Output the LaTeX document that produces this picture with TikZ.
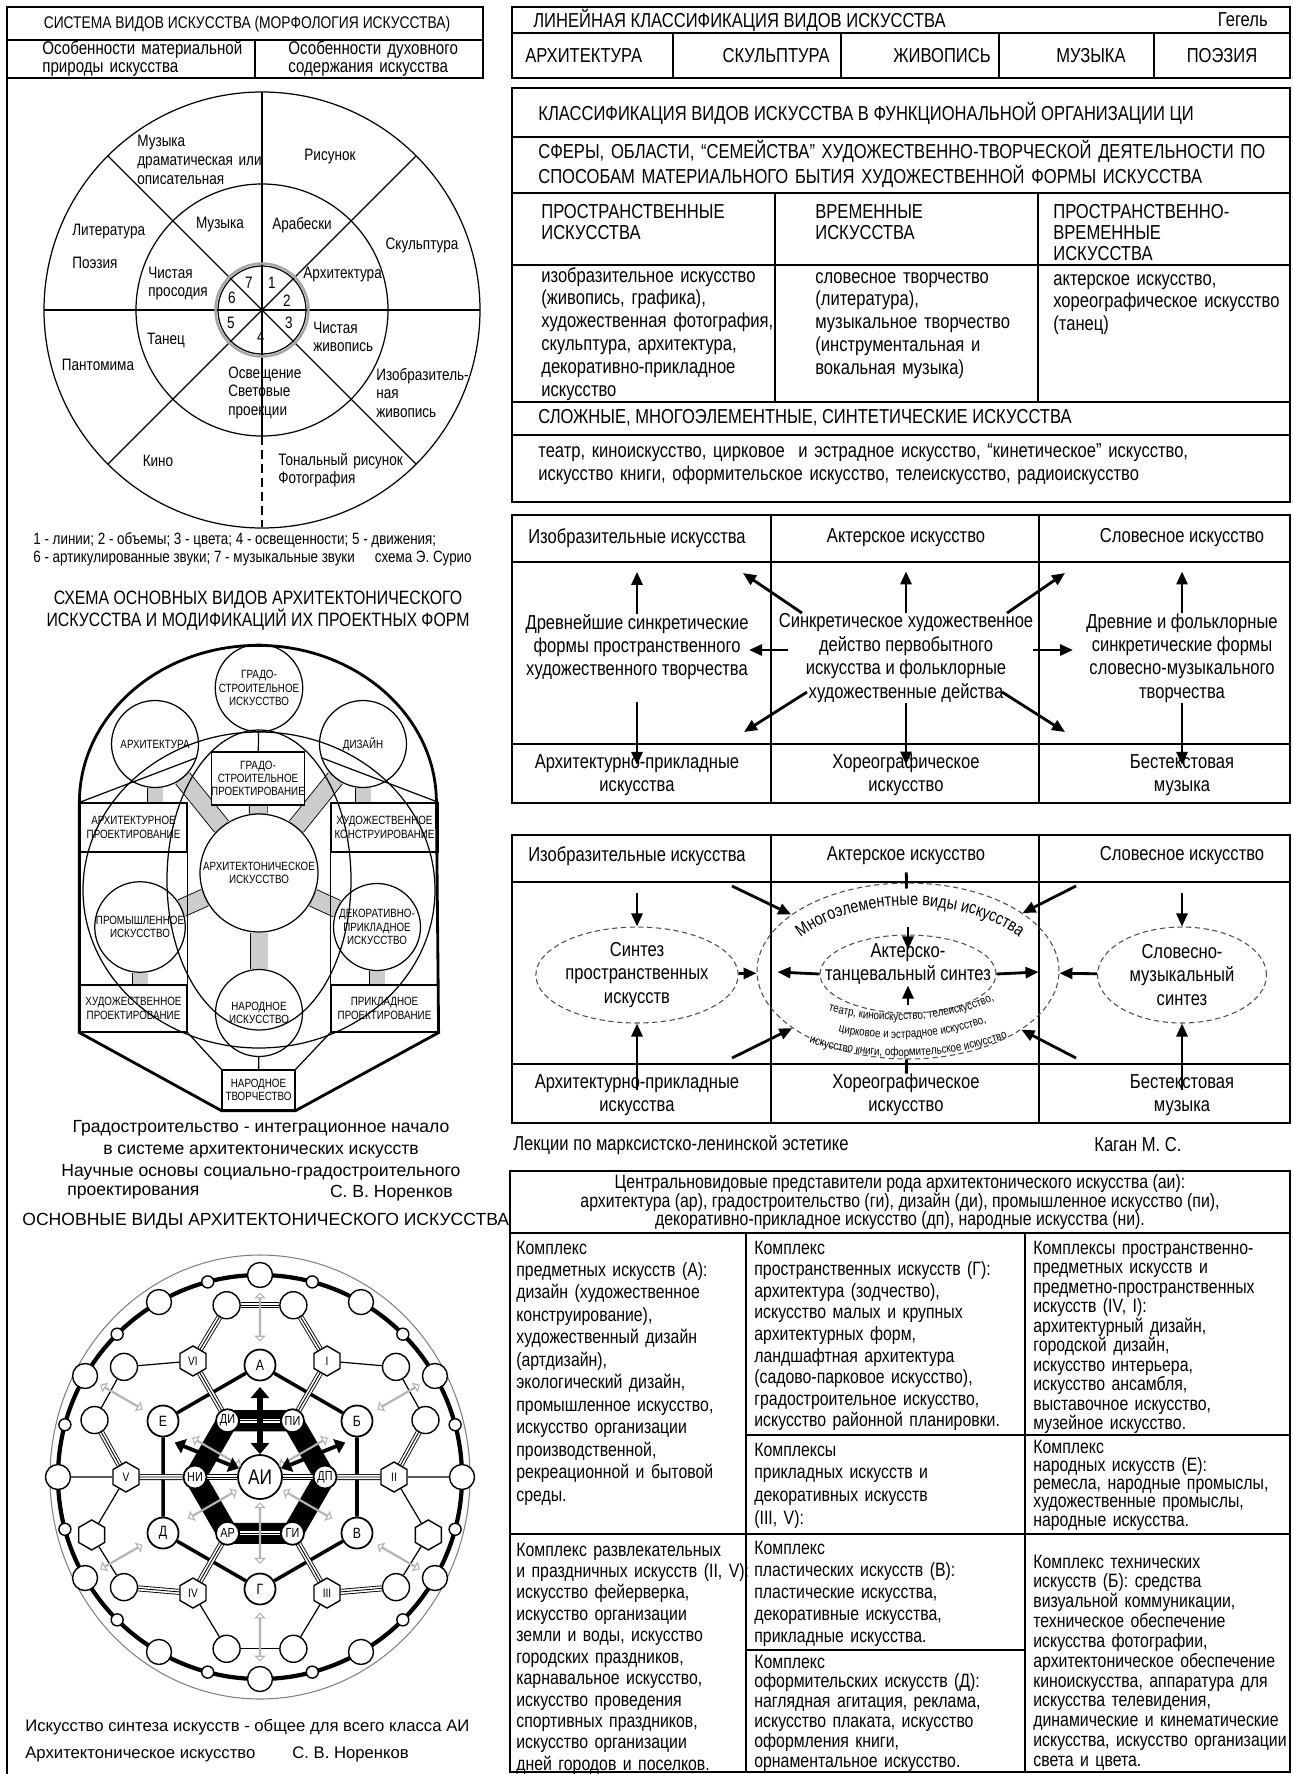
\documentclass[tikz,border=0pt]{standalone}
\usepackage{fontspec}
\setmainfont{Liberation Sans}[FakeStretch=0.82]
\newfontfamily\widefont{Liberation Sans}
\usetikzlibrary{arrows.meta,shapes.geometric,shapes.arrows,decorations.text}
\pgfdeclarelayer{bg}
\pgfsetlayers{bg,main}
\newcommand\fs[2]{\fontsize{#1}{#2}\selectfont}
\tikzset{
  every node/.style={inner sep=0pt},
  rule/.style={line width=1.1pt},
  thinrule/.style={line width=0.7pt},
  cell/.style={anchor=base west, align=left, text width=7.5cm},
  body/.style={font=\fs{11.5}{13.3}},
  clabel/.style={font=\fs{9.4}{10.8}},
  arr/.style={line width=1.6pt, -{Triangle[length=0.26cm,width=0.22cm]}},
  dashring/.style={ellipse, draw=black!70, line width=0.6pt, dash pattern=on 3pt off 2pt},
  gband/.style={line width=0.5pt, double=gray!40, double distance=0.34cm},
  archbox/.style={rectangle, draw, fill=white, line width=0.7pt, font=\fs{6.8}{7.6}, align=center},
  archcirc/.style={circle, draw, fill=white, line width=0.7pt, minimum size=1.74cm, font=\fs{6.8}{7.6}, align=center},
  triple/.style={line width=3.4pt, postaction={draw=white, line width=2.4pt}, postaction={draw=black, line width=0.5pt}},
  ringbig/.style={circle, draw, fill=white, line width=0.8pt, minimum size=0.5cm},
  ringsmall/.style={circle, draw, fill=white, line width=0.8pt, minimum size=0.24cm},
  midc/.style={circle, draw, fill=white, line width=0.8pt, minimum size=0.54cm},
  midh/.style={regular polygon, regular polygon sides=6, shape border rotate=30, draw, fill=white, line width=0.8pt, minimum size=0.6cm},
  letter/.style={circle, draw, fill=white, line width=1pt, minimum size=0.62cm, font=\fs{8.5}{9}},
  innerc/.style={circle, draw, fill=white, line width=1pt, minimum size=0.46cm, font=\fs{7.5}{8}},
  roman/.style={midh, font=\fs{7}{8}},
  hollow/.style={double arrow, draw=gray!60, fill=white, line width=0.6pt, minimum width=0.14cm, double arrow head extend=0.08cm, minimum height=0.95cm},
}
\begin{document}
\begin{tikzpicture}[x=0.02cm, y=-0.02cm]
\useasboundingbox (0,0) rectangle (1293,1774);

% left frame and morphology header
\draw[rule] (7,7) -- (7,1774);
\draw[rule] (7,7) rectangle (483,78);
\draw[rule] (7,40) -- (483,40) (255,40) -- (255,78);
\node[font=\fs{9.6}{10}] (morph) at (247,24) {СИСТЕМА ВИДОВ ИСКУССТВА (МОРФОЛОГИЯ ИСКУССТВА)};
\node[cell, font=\fs{10.5}{9.8}] (matter) at (42,55) {Особенности материальной\\природы искусства};
\node[cell, font=\fs{10.5}{9.8}] (spirit) at (288,55) {Особенности духовного\\содержания искусства};

% Souriau circle
\coordinate (sc) at (262,310);
\draw[thinrule] (sc) circle[radius=218] (sc) circle[radius=126];
\foreach \a in {0,45,135,180,225,270,315} \draw[thinrule] (sc) -- ++(\a:218);
\draw[thinrule] (sc) -- (262,436);
\draw[line width=1pt, dash pattern=on 5pt off 3pt] (262,436) -- (262,527);
\draw[line width=1.4pt, gray!70] (sc) circle[radius=46.5];
\draw[thinrule] (sc) circle[radius=44];
\node[clabel, cell] (musdram) at (137,147) {Музыка\\драматическая или\\описательная};
\node[clabel] (risunok) at (330,157) {Рисунок};
\node[clabel, anchor=west] (lit) at (72,232) {Литература};
\node[clabel, anchor=west] (poez) at (72,263) {Поэзия};
\node[clabel] (muz) at (220,225) {Музыка};
\node[clabel] (arab) at (302,225) {Арабески};
\node[clabel] (skulpt) at (422,245) {Скульптура};
\node[clabel, cell] (pros) at (148,278) {Чистая\\просодия};
\node[clabel, anchor=west] (archit) at (303,275) {Архитектура};
\foreach \n/\x/\y in {7/249/283,1/272/283,6/232/298,2/287/301,5/231/323,3/289/323,4/261/337}
  \node[clabel] (dig\n) at (\x,\y) {\n};
\node[clabel, cell] (zhiv) at (313,333) {Чистая\\живопись};
\node[clabel] (tanec) at (166,340) {Танец};
\node[clabel] (pant) at (98,365) {Пантомима};
\node[clabel, cell] (osv) at (228,378) {Освещение\\Световые\\проекции};
\node[clabel, cell] (izobr) at (376,380) {Изобразитель-\\ная\\живопись};
\node[clabel] (kino) at (158,461) {Кино};
\node[clabel, cell] (ton) at (278,465) {Тональный рисунок\\Фотография};
\node[font=\fs{9.3}{10}, anchor=west] (legend1) at (33,540) {1 - линии; 2 - объемы; 3 - цвета; 4 - освещенности; 5 - движения;};
\node[font=\fs{9.3}{10}, anchor=west] (legend2) at (33,558) {6 - артикулированные звуки; 7 - музыкальные звуки};
\node[font=\fs{9.3}{10}, anchor=east] (souriau) at (472,558) {схема Э. Сурио};

% architectonic scheme
\node[font=\fs{11}{12.5}, align=center] (archtitle) at (258,611) {СХЕМА ОСНОВНЫХ ВИДОВ АРХИТЕКТОНИЧЕСКОГО\\ИСКУССТВА И МОДИФИКАЦИЙ ИХ ПРОЕКТНЫХ ФОРМ};
\node[archcirc, minimum size=2.36cm] (aic) at (259,873) {АРХИТЕКТОНИЧЕСКОЕ\\ИСКУССТВО};
\node[archcirc] (gic) at (259,688) {ГРАДО-\\СТРОИТЕЛЬНОЕ\\ИСКУССТВО};
\node[archcirc] (arc) at (155,744) {АРХИТЕКТУРА};
\node[archcirc] (dic) at (363,744) {ДИЗАЙН};
\node[archcirc] (pic) at (140,927) {ПРОМЫШЛЕННОЕ\\ИСКУССТВО};
\node[archcirc] (dpc) at (377,927) {ДЕКОРАТИВНО-\\ПРИКЛАДНОЕ\\ИСКУССТВО};
\node[archcirc] (nic) at (259,1013) {НАРОДНОЕ\\ИСКУССТВО};
\node[archbox, minimum width=1.84cm, minimum height=1.06cm] (gp) at (258,778.5) {ГРАДО-\\СТРОИТЕЛЬНОЕ\\ПРОЕКТИРОВАНИЕ};
\node[archbox, minimum width=2.14cm, minimum height=0.98cm] (ap) at (133.5,827.5) {АРХИТЕКТУРНОЕ\\ПРОЕКТИРОВАНИЕ};
\node[archbox, minimum width=2.14cm, minimum height=0.98cm] (hk) at (384.5,827.5) {ХУДОЖЕСТВЕННОЕ\\КОНСТРУИРОВАНИЕ};
\node[archbox, minimum width=2.14cm, minimum height=0.94cm] (hp) at (133.5,1008.5) {ХУДОЖЕСТВЕННОЕ\\ПРОЕКТИРОВАНИЕ};
\node[archbox, minimum width=2.14cm, minimum height=0.94cm] (pp) at (384.5,1008.5) {ПРИКЛАДНОЕ\\ПРОЕКТИРОВАНИЕ};
\node[archbox, minimum width=1.46cm, minimum height=0.8cm] (nt) at (258.5,1090) {НАРОДНОЕ\\ТВОРЧЕСТВО};
\begin{pgfonlayer}{bg}
  \foreach \t in {gp,arc,dic,pic,dpc,nic} \draw[gband] (aic) -- (\t);
  \draw[gband, double distance=0.3cm] (arc) -- (arc |- ap.north);
  \draw[gband, double distance=0.3cm] (dic) -- (dic |- hk.north);
  \draw[gband, double distance=0.3cm] (pic) -- (pic |- hp.north);
  \draw[gband, double distance=0.3cm] (dpc) -- (dpc |- pp.north);
\end{pgfonlayer}
\draw[thinrule] (259,890) ellipse[x radius=176, y radius=158];
\draw[thinrule] (259,880) ellipse[x radius=92, y radius=150];
\draw[thinrule] (gic) -- (gp) (nic) -- (nt);
\draw[thinrule] (ap.north west) -- (arc.-18) (hk.north east) -- (dic.198);
\draw[thinrule] (ap.north east) -- (hp.south east) (hk.north west) -- (pp.south west);
\draw[thinrule] (hp.south east) -- (nt.north west) (pp.south west) -- (nt.north east);
\draw[line width=1.6pt] (hp.south west) -- (ap.north west)
  arc[start angle=180, end angle=360, x radius=178.5, y radius=157]
  -- (pp.south east) -- (nt.south east) -- (nt.south west) -- cycle;
\node[font=\widefont\fs{10}{12.6}, align=center] (gradcap) at (261,1150) {Градостроительство - интеграционное начало\\в системе архитектонических искусств\\Научные основы социально-градостроительного};
\node[font=\widefont\fs{10}{12}, anchor=west] (proj) at (67,1193) {проектирования};
\node[font=\widefont\fs{10}{12}, anchor=east] (noren1) at (453,1193) {С. В. Норенков};
\node[font=\widefont\fs{10}{12}, anchor=west] (hextitle) at (22,1221) {ОСНОВНЫЕ ВИДЫ АРХИТЕКТОНИЧЕСКОГО ИСКУССТВА};

% hexagonal scheme of architectonic art
\begin{scope}[shift={(260,1477)}, y=0.02cm]
  \draw[gray, line width=0.6pt] (0,0) ellipse[x radius=210, y radius=222];
  \draw[line width=2.4pt] (0,0) circle[radius=202];
  \foreach \a in {0,30,...,330} \node[ringbig] (rb\a) at (\a:202) {};
  \foreach \a in {15,45,...,345} \node[ringsmall] (rs\a) at (\a:202) {};
  \foreach \a in {19,39,79,101,141,161,219,259,281,321} \node[midc] (m\a) at (\a:175) {};
  \foreach \a in {199,341} \node[midh] (m\a) at (\a:178) {};
  \foreach \a/\t in {60/I,0/II,300/III,240/IV,180/V,120/VI} \node[roman] (r\t) at (\a:134) {\t};
  \foreach \a/\n/\t in {60/pi/ПИ,0/dp/ДП,300/gi/ГИ,240/ar/АР,180/ni/НИ,120/di/ДИ} \node[innerc] (n\n) at (\a:65) {\t};
  \foreach \a/\n/\t in {90/a/А,30/b/Б,330/v/В,270/g/Г,210/d/Д,150/e/Е} \node[letter] (l\n) at (\a:112) {\t};
  \node[circle, draw, fill=white, line width=1pt, minimum size=0.88cm, font=\fs{12}{13}] (ai) at (0,0) {АИ};
  \begin{pgfonlayer}{bg}
    \draw[line width=12pt, line join=round] (ndi.center) -- (npi.center) -- (ndp.center) -- (ngi.center) -- (nar.center) -- (nni.center) -- cycle;
    \draw[triple] (ndi) -- (npi);
    \draw[triple] (nar) -- (ngi);
    \draw[triple] (nni) -- (ai);
    \draw[triple] (ai) -- (ndp);
    \draw[line width=2pt] (la) -- (lb) -- (lv) -- (lg) -- (ld) -- (le) -- (la);
    \foreach \t/\n in {I/pi,II/dp,III/gi,IV/ar,V/ni,VI/di} \draw[triple] (r\t) -- (n\n);
    \foreach \t/\m in {VI/101,I/79,V/161,II/19,IV/219,III/321} \draw[triple] (r\t) -- (m\m);
    \foreach \t/\m in {VI/141,I/39,V/199,II/341,IV/259,III/281} \draw[thinrule] (r\t) -- (m\m);
    \draw[triple] (m79) -- (m101);
    \foreach \p/\q in {141/161,199/219,259/281,321/341,19/39} \draw[thinrule] (m\p) -- (m\q);
    \draw[thinrule] (rV) -- (rb180) (rII) -- (rb0);
  \end{pgfonlayer}
  \foreach \a in {30,90,...,330} \node[hollow, rotate=\a] (ho\a) at (\a:160) {};
  \node[hollow, rotate=30, minimum height=1.1cm] (hw1) at (210:55) {};
  \node[hollow, rotate=150, minimum height=1.1cm] (hw2) at (330:55) {};
  \node[hollow, rotate=150, minimum height=1.1cm] (hw3) at (150:50) {};
  \node[hollow, rotate=30, minimum height=1.1cm] (hw4) at (30:50) {};
  \node[hollow, rotate=90, minimum height=1.2cm] (hw5) at (270:56) {};
  \draw[line width=3pt, {Triangle[length=0.22cm,width=0.36cm]}-{Triangle[length=0.22cm,width=0.36cm]}] (ai) -- (0,90);
  \draw[line width=2.2pt, {Triangle[length=0.2cm,width=0.3cm]}-{Triangle[length=0.2cm,width=0.3cm]}] (158:92) -- (ai);
  \draw[line width=2.2pt, {Triangle[length=0.2cm,width=0.3cm]}-{Triangle[length=0.2cm,width=0.3cm]}] (22:92) -- (ai);
\end{scope}
\node[font=\widefont\fs{9.5}{11}, anchor=west] (synth) at (25,1727) {Искусство синтеза искусств - общее для всего класса АИ};
\node[font=\widefont\fs{9.5}{11}, anchor=west] (archart) at (25,1754) {Архитектоническое искусство};
\node[font=\widefont\fs{9.5}{11}, anchor=west] (noren2) at (292,1754) {С. В. Норенков};

% linear classification
\draw[rule] (512,7) rectangle (1290,78);
\draw[rule] (512,33) -- (1290,33);
\foreach \x in {673,841,999,1154} \draw[rule] (\x,33) -- (\x,78);
\node[body, anchor=west] (lin) at (533,20) {ЛИНЕЙНАЯ КЛАССИФИКАЦИЯ ВИДОВ ИСКУССТВА};
\node[body, anchor=east] (hegel) at (1268,20) {Гегель};
\node[body, anchor=west] (lin1) at (525,56) {АРХИТЕКТУРА};
\node[body, anchor=east] (lin2) at (830,56) {СКУЛЬПТУРА};
\node[body, anchor=east] (lin3) at (991,56) {ЖИВОПИСЬ};
\node[body] (lin4) at (1091,56) {МУЗЫКА};
\node[body] (lin5) at (1222,56) {ПОЭЗИЯ};

% functional classification
\draw[rule] (512,88) rectangle (1290,502);
\foreach \y in {137,193,265,402,435} \draw[rule] (512,\y) -- (1290,\y);
\foreach \x in {775,1038} \draw[rule] (\x,193) -- (\x,402);
\node[body, anchor=west] (klass) at (538,113) {КЛАССИФИКАЦИЯ ВИДОВ ИСКУССТВА В ФУНКЦИОНАЛЬНОЙ ОРГАНИЗАЦИИ ЦИ};
\node[cell, font=\fs{11.5}{12.5}, text width=16cm] (spheres) at (538,159) {СФЕРЫ, ОБЛАСТИ, “СЕМЕЙСТВА” ХУДОЖЕСТВЕННО-ТВОРЧЕСКОЙ ДЕЯТЕЛЬНОСТИ ПО\\СПОСОБАМ МАТЕРИАЛЬНОГО БЫТИЯ ХУДОЖЕСТВЕННОЙ ФОРМЫ ИСКУССТВА};
\node[cell, font=\fs{11.5}{12}] (spat) at (541,218) {ПРОСТРАНСТВЕННЫЕ\\ИСКУССТВА};
\node[cell, font=\fs{11.5}{12}] (temp) at (815,218) {ВРЕМЕННЫЕ\\ИСКУССТВА};
\node[cell, font=\fs{11.5}{12}] (spattemp) at (1053,218) {ПРОСТРАНСТВЕННО-\\ВРЕМЕННЫЕ\\ИСКУССТВА};
\node[cell, font=\fs{11.5}{13}] (spatbody) at (541,282) {изобразительное искусство\\(живопись, графика),\\художественная фотография,\\скульптура, архитектура,\\декоративно-прикладное\\искусство};
\node[cell, font=\fs{11.5}{13}] (tempbody) at (815,283) {словесное творчество\\(литература),\\музыкальное творчество\\(инструментальная и\\вокальная музыка)};
\node[cell, font=\fs{11.5}{13}] (stbody) at (1053,285) {актерское искусство,\\хореографическое искусство\\(танец)};
\node[body, anchor=west] (complex) at (538,418) {СЛОЖНЫЕ, МНОГОЭЛЕМЕНТНЫЕ, СИНТЕТИЧЕСКИЕ ИСКУССТВА};
\node[cell, font=\fs{11.5}{13.6}, text width=16cm] (complexbody) at (538,457) {театр, киноискусство, цирковое~ и эстрадное искусство, “кинетическое” искусство,\\искусство книги, оформительское искусство, телеискусство, радиоискусство};

% genesis of the arts
\draw[rule] (512,515) rectangle (1290,803);
\draw[rule] (512,562) -- (1290,562) (512,744) -- (1290,744);
\draw[rule] (771,515) -- (771,803) (1039,515) -- (1039,803);
\node[body] (d1izo) at (637,538) {Изобразительные искусства};
\node[body] (d1akt) at (906,538) {Актерское искусство};
\node[body] (d1slo) at (1182,538) {Словесное искусство};
\node[body, align=center] (d1anc) at (637,647) {Древнейшие синкретические\\формы пространственного\\художественного творчества};
\node[body, align=center] (d1syn) at (906,658) {Синкретическое художественное\\действо первобытного\\искусства и фольклорные\\художественные действа};
\node[body, align=center] (d1old) at (1182,658) {Древние и фольклорные\\синкретические формы\\словесно-музыкального\\творчества};
\node[body, align=center] (d1arch) at (637,775) {Архитектурно-прикладные\\искусства};
\node[body, align=center] (d1chor) at (906,775) {Хореографическое\\искусство};
\node[body, align=center] (d1mus) at (1182,775) {Бестекстовая\\музыка};
\draw[arr, shorten >=0.48cm] (d1anc) -- (d1izo);
\draw[arr, shorten >=0.48cm] (d1syn) -- (d1akt);
\draw[arr, shorten >=0.48cm] (d1old) -- (d1slo);
\draw[arr, shorten <=0.44cm, shorten >=-0.22cm] (d1anc) -- (d1arch);
\draw[arr, shorten >=-0.22cm] (d1syn) -- (d1chor);
\draw[arr, shorten >=-0.22cm] (d1old) -- (d1mus);
\coordinate (a1) at (802,613); \coordinate (b1) at (743,573);
\coordinate (a2) at (1007,613); \coordinate (b2) at (1065,573);
\coordinate (a3) at (788,650); \coordinate (b3) at (749,650);
\coordinate (a4) at (1033,650); \coordinate (b4) at (1073,650);
\coordinate (a5) at (807,692); \coordinate (b5) at (744,732);
\coordinate (a6) at (1002,692); \coordinate (b6) at (1065,732);
\foreach \n in {1,...,6} \draw[arr] (a\n) -- (b\n);

% synthesis of the arts
\draw[rule] (512,835) rectangle (1290,1123);
\draw[rule] (512,882) -- (1290,882) (512,1064) -- (1290,1064);
\draw[rule] (771,835) -- (771,1123) (1039,835) -- (1039,1123);
\node[body] (d2izo) at (637,856) {Изобразительные искусства};
\node[body] (d2akt) at (906,856) {Актерское искусство};
\node[body] (d2slo) at (1182,856) {Словесное искусство};
\node[dashring, minimum width=6.04cm, minimum height=3.52cm] (multi) at (908,971) {};
\node[dashring, body, align=center, minimum width=3.36cm, minimum height=1.92cm] (synL) at (637,975) {Синтез\\пространственных\\искусств};
\node[dashring, body, align=center, minimum width=3.38cm, minimum height=1.92cm] (synR) at (1182,975) {Словесно-\\музыкальный\\синтез};
\node[dashring, minimum width=3.52cm, minimum height=1.56cm] (atsyn) at (908,974) {};
\node[body, align=center] (atsyntext) at (908,964) {Актерско-\\танцевальный синтез};
\node[body, align=center] (d2arch) at (637,1095) {Архитектурно-прикладные\\искусства};
\node[body, align=center] (d2chor) at (906,1095) {Хореографическое\\искусство};
\node[body, align=center] (d2mus) at (1182,1095) {Бестекстовая\\музыка};
\path[decorate, decoration={text along path, text align=center, text={|\fs{10}{11}|Многоэлементные виды искусства}}] (782,958) .. controls (828,888) and (992,888) .. (1038,958);
\path[decorate, decoration={text along path, text align=center, text={|\fs{6.8}{8}|театр, киноискусство, телеискусство,}}] (812,1004) .. controls (860,1028) and (955,1026) .. (1010,992);
\path[decorate, decoration={text along path, text align=center, text={|\fs{6.8}{8}|цирковое и эстрадное искусство,}}] (810,1022) .. controls (860,1046) and (955,1044) .. (1014,1010);
\path[decorate, decoration={text along path, text align=center, text={|\fs{6.8}{8}|искусство книги, оформительское искусство}}] (782,1032) .. controls (850,1066) and (965,1064) .. (1034,1026);
\draw[arr, shorten <=0.54cm] (d2izo) -- (synL);
\draw[arr, shorten <=0.54cm] (d2slo) -- (synR);
\draw[arr, shorten <=-0.32cm] (d2arch) -- (synL);
\draw[arr, shorten <=-0.32cm] (d2mus) -- (synR);
\draw[line width=1.6pt, shorten <=0.14cm, shorten >=-0.12cm] (d2akt) -- (multi);
\draw[line width=1.6pt] (d2chor) -- (multi);
\draw[arr, shorten <=0.9cm, shorten >=-0.3cm] (multi.north) -- (atsyn);
\draw[arr, shorten <=1.1cm, shorten >=-0.56cm] (multi.south) -- (atsyn);
\draw[arr] (synL) -- (multi);
\draw[arr] (synR) -- (multi);
\draw[arr, shorten >=0.42cm] (atsyn.west) -- (multi.west);
\draw[arr, shorten >=0.42cm] (atsyn.east) -- (multi.east);
\coordinate (q1) at (732,886); \coordinate (q2) at (1076,886);
\coordinate (q3) at (732,1058); \coordinate (q4) at (1076,1058);
\foreach \n in {1,...,4} \draw[arr] (q\n) -- (multi);
\node[body, anchor=west] (lectures) at (513,1145) {Лекции по марксистско-ленинской эстетике};
\node[body, anchor=west] (kagan) at (1094,1145) {Каган М. С.};

% complexes of architectonic art
\draw[rule] (510,1772) -- (510,1171) -- (1290,1171) -- (1290,1772) -- cycle;
\draw[rule] (510,1233) -- (1290,1233) (510,1534) -- (1290,1534);
\draw[rule] (746,1233) -- (746,1772) (1025,1233) -- (1025,1772);
\draw[rule] (746,1435) -- (1290,1435) (746,1650) -- (1025,1650);
\node[font=\fs{11}{10.8}, align=center] (aihead) at (900,1202) {Центральновидовые представители рода архитектонического искусства (аи):\\архитектура (ар), градостроительство (ги), дизайн (ди), промышленное искусство (пи),\\декоративно-прикладное искусство (дп), народные искусства (ни).};
\node[cell, font=\fs{11}{12.8}] (cA) at (516,1254) {Комплекс\\предметных искусств (А):\\дизайн (художественное\\конструирование),\\художественный дизайн\\(артдизайн),\\экологический дизайн,\\промышленное искусство,\\искусство организации\\производственной,\\рекреационной и бытовой\\среды.};
\node[cell, font=\fs{11}{12.3}] (cG) at (754,1254) {Комплекс\\пространственных искусств (Г):\\архитектура (зодчество),\\искусство малых и крупных\\архитектурных форм,\\ландшафтная архитектура\\(садово-парковое искусство),\\градостроительное искусство,\\искусство районной планировки.};
\node[cell, font=\fs{11}{11.1}] (cIVI) at (1033,1254) {Комплексы пространственно-\\предметных искусств и\\предметно-пространственных\\искусств (IV, I):\\архитектурный дизайн,\\городской дизайн,\\искусство интерьера,\\искусство ансамбля,\\выставочное искусство,\\музейное искусство.};
\node[cell, font=\fs{11}{12.9}] (cIIIV) at (754,1456) {Комплексы\\прикладных искусств и\\декоративных искусств\\(III, V):};
\node[cell, font=\fs{11}{10.4}] (cE) at (1033,1453) {Комплекс\\народных искусств (Е):\\ремесла, народные промыслы,\\художественные промыслы,\\народные искусства.};
\node[cell, font=\fs{11}{12.2}] (cIIV) at (516,1556) {Комплекс развлекательных\\и праздничных искусств (II, V):\\искусство фейерверка,\\искусство организации\\земли и воды, искусство\\городских праздников,\\карнавальное искусство,\\искусство проведения\\спортивных праздников,\\искусство организации\\дней городов и поселков.};
\node[cell, font=\fs{11}{12.6}] (cV) at (754,1554) {Комплекс\\пластических искусств (В):\\пластические искусства,\\декоративные искусства,\\прикладные искусства.};
\node[cell, font=\fs{11}{11.3}] (cD) at (754,1668) {Комплекс\\оформительских искусств (Д):\\наглядная агитация, реклама,\\искусство плаката, искусство\\оформления книги,\\орнаментальное искусство.};
\node[cell, font=\fs{11}{11.3}] (cB) at (1033,1568) {Комплекс технических\\искусств (Б): средства\\визуальной коммуникации,\\техническое обеспечение\\искусства фотографии,\\архитектоническое обеспечение\\киноискусства, аппаратура для\\искусства телевидения,\\динамические и кинематические\\искусства, искусство организации\\света и цвета.};
\end{tikzpicture}
\end{document}
